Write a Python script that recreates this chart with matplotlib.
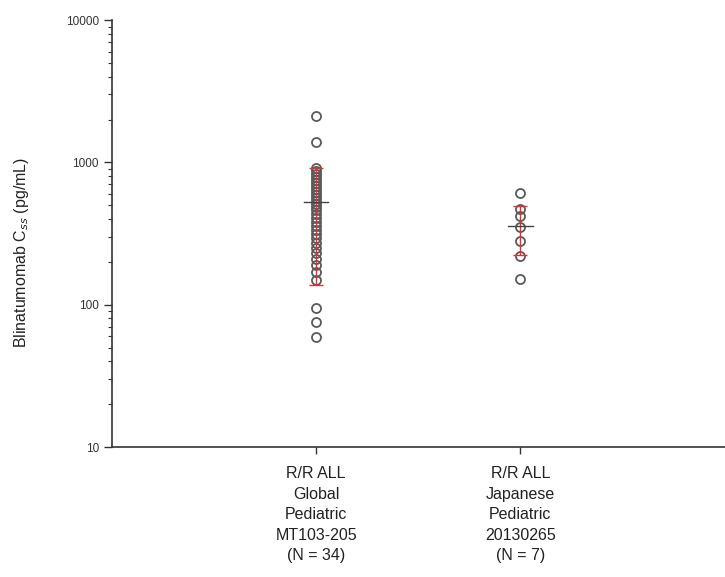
import matplotlib
matplotlib.use("Agg")
import matplotlib.pyplot as plt
import numpy as np
from matplotlib.ticker import LogLocator, FixedLocator, NullFormatter

plt.rcParams['font.family'] = ['Liberation Sans', 'DejaVu Sans']

categories = ["R/R ALL\nGlobal\nPediatric\nMT103-205\n(N = 34)",
              "R/R ALL\nJapanese\nPediatric\n20130265\n(N = 7)"]

global_css = [2113, 1390, 912, 869, 828, 789, 752, 716, 681, 649, 618, 589,
              561, 535, 509, 485, 462, 434, 406, 380, 357, 334, 313, 294,
              271, 250, 231, 209, 190, 169, 149, 95, 75, 59]
japan_css = [608, 470, 420, 350, 280, 220, 151]

group_means = [526, 357]
group_sds = [388, 135]

fig = plt.figure(figsize=(7.25, 5.77), dpi=100)
ax = fig.add_axes([0.1545, 0.2253, 0.845, 0.74])

data = [global_css, japan_css]
xpos = [1, 2]
for x, vals, m, sd in zip(xpos, data, group_means, group_sds):
    ax.plot([x] * len(vals), vals, linestyle='none', marker='o', markersize=6.5,
            markerfacecolor='none', markeredgecolor='#5a5a5a', markeredgewidth=1.3,
            zorder=3)
    ax.errorbar([x], [m], yerr=[[sd], [sd]], fmt='none', ecolor='#e03030',
                elinewidth=1.0, capsize=5, capthick=1.0, zorder=4)
    ax.plot([x - 0.06, x + 0.06], [m, m], color='#444444', lw=1.0, zorder=5)

ax.set_yscale('log')
ax.set_ylim(10, 10000)
ax.set_xlim(0, 3)
ax.set_xticks(xpos)
ax.set_xticklabels(categories, fontsize=11.5, color='#222222', linespacing=1.45)
ax.yaxis.set_major_locator(FixedLocator([10, 100, 1000, 10000]))
ax.set_yticklabels(['10', '100', '1000', '10000'], fontsize=8.5, color='#333333')
ax.yaxis.set_minor_locator(LogLocator(base=10, subs=np.arange(2, 10)))
ax.yaxis.set_minor_formatter(NullFormatter())
ax.tick_params(axis='y', which='major', length=6, width=1, color='#333333')
ax.tick_params(axis='y', which='minor', length=3, width=0.8, color='#333333')
ax.tick_params(axis='x', length=5, width=1, color='#333333', pad=9)

for s in ['top', 'right']:
    ax.spines[s].set_visible(False)
for s in ['left', 'bottom']:
    ax.spines[s].set_color('#333333')
    ax.spines[s].set_linewidth(1.2)

ax.set_ylabel('Blinatumomab C$_{ss}$ (pg/mL)', fontsize=11.5, color='#222222')
ax.yaxis.set_label_coords(-0.132, 0.455)

fig.savefig('out.png', dpi=100)
